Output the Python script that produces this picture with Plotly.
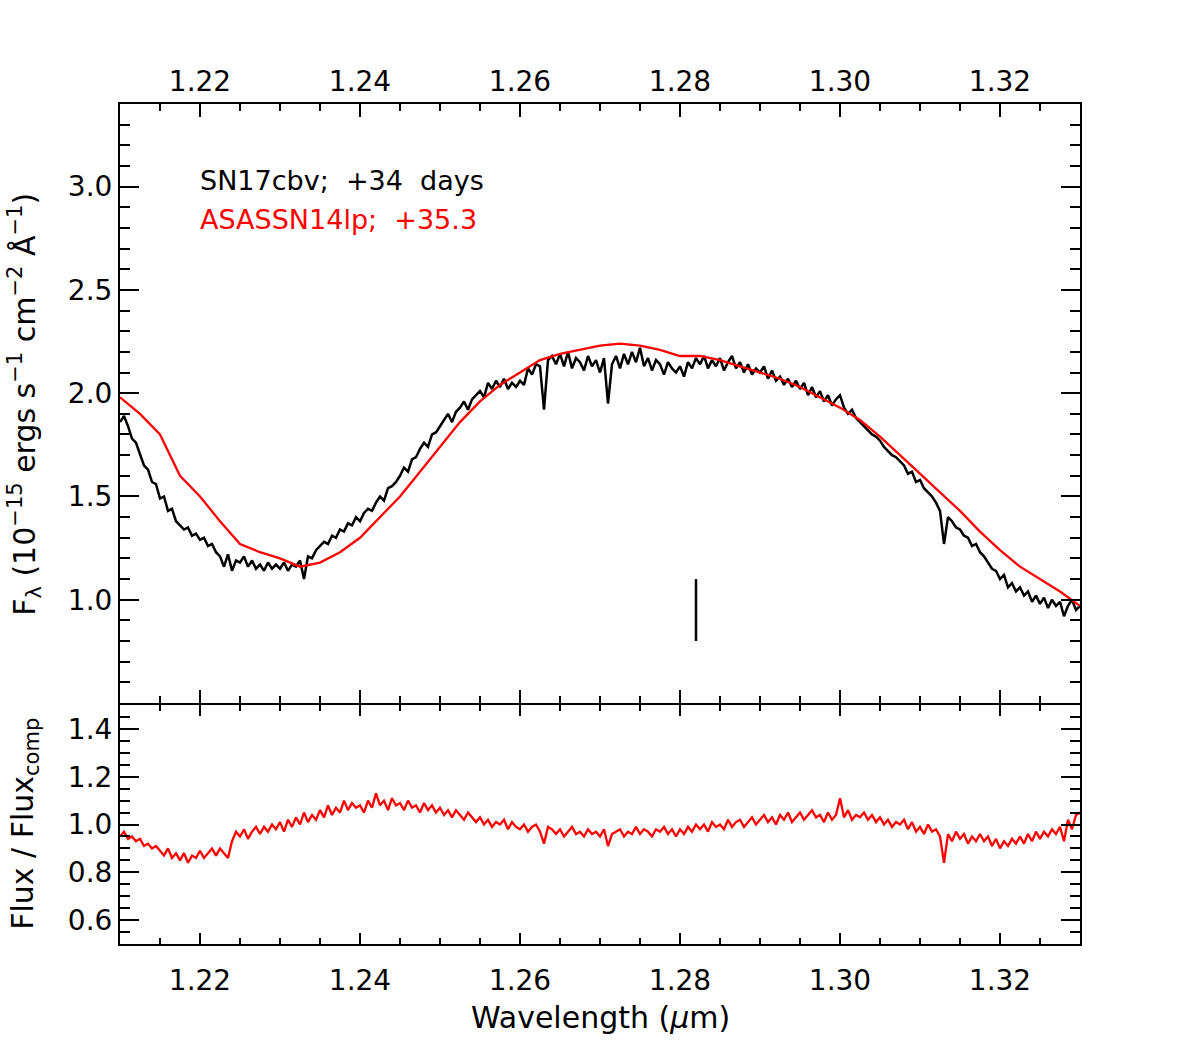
import numpy as np
import plotly.graph_objects as go

# ---------------- data ----------------
# SN17cbv spectrum, sampled every 0.0005 micron from 1.21 to 1.33
wave_start = 1.21
wave_step_obs = 0.0005
flux_obs = [
    1.86, 1.89, 1.84, 1.78, 1.76,
    1.71, 1.65, 1.63, 1.57, 1.56,
    1.49, 1.50, 1.43, 1.44, 1.38,
    1.36, 1.34, 1.35, 1.31, 1.32,
    1.29, 1.30, 1.26, 1.27, 1.23,
    1.21, 1.16, 1.22, 1.14, 1.19,
    1.18, 1.21, 1.16, 1.19, 1.15,
    1.17, 1.14, 1.18, 1.15, 1.17,
    1.15, 1.18, 1.14, 1.17, 1.16,
    1.19, 1.10, 1.21, 1.20, 1.24,
    1.26, 1.28, 1.27, 1.31, 1.30,
    1.34, 1.33, 1.37, 1.36, 1.40,
    1.38, 1.42, 1.44, 1.43, 1.47,
    1.50, 1.48, 1.54, 1.55, 1.57,
    1.60, 1.64, 1.62, 1.68, 1.69,
    1.73, 1.76, 1.74, 1.80, 1.81,
    1.84, 1.87, 1.90, 1.86, 1.91,
    1.93, 1.96, 1.92, 1.97, 1.99,
    2.01, 1.98, 2.05, 2.02, 2.06,
    2.03, 2.07, 2.02, 2.05, 2.03,
    2.06, 2.04, 2.12, 2.09, 2.14,
    2.13, 1.92, 2.16, 2.18, 2.14,
    2.19, 2.13, 2.20, 2.12, 2.17,
    2.15, 2.11, 2.18, 2.13, 2.16,
    2.10, 2.17, 1.95, 2.14, 2.18,
    2.12, 2.19, 2.14, 2.20, 2.15,
    2.22, 2.13, 2.17, 2.11, 2.16,
    2.14, 2.09, 2.15, 2.12, 2.10,
    2.13, 2.08, 2.15, 2.12, 2.17,
    2.14, 2.18, 2.12, 2.16, 2.13,
    2.17, 2.11, 2.15, 2.18, 2.12,
    2.15, 2.10, 2.14, 2.09, 2.12,
    2.10, 2.13, 2.07, 2.11, 2.06,
    2.08, 2.04, 2.07, 2.03, 2.06,
    2.02, 2.05, 1.99, 2.03, 1.98,
    2.01, 1.96, 1.99, 1.94, 1.97,
    1.99, 1.93, 1.90, 1.92, 1.88,
    1.86, 1.84, 1.82, 1.80, 1.79,
    1.77, 1.74, 1.72, 1.70, 1.69,
    1.67, 1.65, 1.61, 1.62, 1.57,
    1.58, 1.54, 1.52, 1.50, 1.47,
    1.43, 1.27, 1.40, 1.38, 1.35,
    1.34, 1.31, 1.30, 1.26, 1.27,
    1.23, 1.21, 1.18, 1.15, 1.14,
    1.10, 1.12, 1.06, 1.08, 1.04,
    1.06, 1.02, 1.04, 0.99, 1.02,
    0.98, 1.01, 0.96, 1.00, 0.97,
    0.99, 0.92, 0.97, 1.00, 0.95,
    0.97,
]

# ASASSN14lp comparison spectrum, sampled every 0.0025 micron
wave_step_comp = 0.0025
flux_comp = [
    1.98, 1.90, 1.80, 1.60, 1.50, 1.38, 1.27, 1.23, 1.20, 1.16,
    1.18, 1.23, 1.30, 1.40, 1.50, 1.62, 1.74, 1.86, 1.96, 2.04,
    2.10, 2.16, 2.19, 2.21, 2.23, 2.24, 2.23, 2.21, 2.18, 2.18,
    2.16, 2.13, 2.10, 2.07, 2.03, 1.98, 1.93, 1.87, 1.79, 1.70,
    1.61, 1.52, 1.43, 1.33, 1.24, 1.16, 1.10, 1.04, 0.97,
]

# Flux / Flux_comp ratio, sampled every 0.0005 micron
ratio = [
    0.95, 0.97, 0.94, 0.95, 0.93,
    0.94, 0.91, 0.92, 0.90, 0.91,
    0.89, 0.87, 0.90, 0.86, 0.88,
    0.85, 0.88, 0.84, 0.87, 0.86,
    0.89, 0.86, 0.88, 0.90, 0.87,
    0.90, 0.88, 0.86, 0.93, 0.97,
    0.95, 0.98, 0.94, 0.97, 0.99,
    0.96, 0.99, 0.97, 1.00, 0.98,
    1.01, 0.97, 1.02, 0.99, 1.03,
    1.00, 1.05, 1.01, 1.04, 1.02,
    1.06, 1.03, 1.08, 1.04, 1.07,
    1.05, 1.10, 1.06, 1.09, 1.07,
    1.08, 1.05, 1.10, 1.07, 1.13,
    1.08, 1.10, 1.06, 1.11, 1.08,
    1.09, 1.06, 1.10, 1.07, 1.08,
    1.05, 1.09, 1.06, 1.08, 1.05,
    1.07, 1.04, 1.06, 1.03, 1.06,
    1.04, 1.02, 1.05, 1.03, 1.01,
    1.03, 1.00, 1.02, 0.99, 1.01,
    1.00, 1.02, 0.98, 1.01, 0.99,
    0.98, 1.00, 0.97, 0.99, 1.00,
    0.97, 0.92, 0.99, 0.98, 0.96,
    0.98, 0.95, 0.97, 0.99, 0.96,
    0.97, 0.95, 0.98, 0.96, 0.97,
    0.95, 0.98, 0.91, 0.96, 0.97,
    0.98, 0.95, 0.97, 0.96, 0.99,
    0.96, 0.98, 0.97, 0.95, 0.98,
    0.97, 0.99, 0.96, 0.98, 0.95,
    0.98, 0.96, 0.99, 0.97, 1.00,
    0.98, 1.00, 0.97, 1.01, 0.99,
    1.00, 0.98, 1.02, 0.99, 1.01,
    1.02, 0.99, 1.01, 1.03, 1.00,
    1.02, 1.04, 1.01, 1.03, 1.00,
    1.04, 1.02, 1.05, 1.01, 1.03,
    1.05, 1.02, 1.04, 1.06, 1.03,
    1.04, 1.01, 1.05, 1.02, 1.04,
    1.11, 1.03, 1.06, 1.02, 1.04,
    1.03, 1.05, 1.02, 1.04, 1.01,
    1.03, 1.00, 1.02, 0.99, 1.01,
    1.00, 1.02, 0.98, 1.01, 0.97,
    0.99, 0.96, 1.00, 0.97, 0.98,
    0.95, 0.84, 0.96, 0.93, 0.97,
    0.94, 0.96, 0.92, 0.95, 0.93,
    0.96, 0.93, 0.95, 0.91, 0.94,
    0.90, 0.93, 0.91, 0.94, 0.92,
    0.95, 0.92, 0.96, 0.93, 0.97,
    0.94, 0.97, 0.95, 0.98, 0.96,
    0.99, 0.93, 1.02, 0.98, 1.04,
    1.05,
]

# feature marker
marker_x = [1.282, 1.282]
marker_y = [0.80, 1.10]

# axes
x_range = [1.21, 1.33]
y_top_range = [0.5, 3.4]
y_bot_range = [0.5, 1.5]
y_top_ticks = [1.0, 1.5, 2.0, 2.5, 3.0]
y_bot_ticks = [0.6, 0.8, 1.0, 1.2, 1.4]

label_obs = "SN17cbv;\u00a0\u00a0+34\u00a0\u00a0days"
label_comp = "ASASSN14lp;\u00a0\u00a0+35.3"

wave_obs = wave_start + wave_step_obs * np.arange(len(flux_obs))
wave_comp = wave_start + wave_step_comp * np.arange(len(flux_comp))
wave_ratio = wave_start + wave_step_obs * np.arange(len(ratio))

# ---------------- figure ----------------
FONT = "DejaVu Sans"
fig = go.Figure()

fig.add_trace(go.Scatter(x=wave_obs, y=flux_obs, mode="lines",
                         line=dict(color="black", width=2.5),
                         xaxis="x", yaxis="y", showlegend=False))
fig.add_trace(go.Scatter(x=wave_comp, y=flux_comp, mode="lines",
                         line=dict(color="red", width=2.3),
                         xaxis="x", yaxis="y", showlegend=False))
fig.add_trace(go.Scatter(x=marker_x, y=marker_y, mode="lines",
                         line=dict(color="black", width=2.5),
                         xaxis="x", yaxis="y", showlegend=False))
fig.add_trace(go.Scatter(x=wave_ratio, y=ratio, mode="lines",
                         line=dict(color="red", width=2.3),
                         xaxis="x2", yaxis="y2", showlegend=False))

split = 240 / 840
gap = 1 / 840

common = dict(showline=True, linecolor="black", linewidth=2, mirror="ticks",
              ticks="inside", tickcolor="black", tickwidth=2,
              showgrid=False, zeroline=False,
              tickfont=dict(family=FONT, size=28, color="black"))

fig.update_layout(
    width=1200, height=1050,
    margin=dict(l=120, r=120, t=104, b=106),
    paper_bgcolor="white", plot_bgcolor="white",
    font=dict(family=FONT, color="black"),
    xaxis=dict(domain=[0, 1], anchor="y", side="top", range=x_range,
               tick0=1.22, dtick=0.02, tickformat=".2f", ticklen=13,
               minor=dict(dtick=0.005, tick0=1.21, ticklen=7, ticks="inside",
                          tickcolor="black", tickwidth=2, showgrid=False),
               **common),
    yaxis=dict(domain=[split + gap, 1], anchor="x", range=y_top_range,
               tickmode="array", tickvals=y_top_ticks, tickformat=".1f",
               ticklen=19,
               minor=dict(dtick=0.1, tick0=0.5, ticklen=10, ticks="inside",
                          tickcolor="black", tickwidth=2, showgrid=False),
               **common),
    xaxis2=dict(domain=[0, 1], anchor="y2", side="bottom", range=x_range,
                tick0=1.22, dtick=0.02, tickformat=".2f", ticklen=11,
                ticklabelstandoff=10,
                minor=dict(dtick=0.005, tick0=1.21, ticklen=6, ticks="inside",
                           tickcolor="black", tickwidth=2, showgrid=False),
                **common),
    yaxis2=dict(domain=[0, split - gap], anchor="x2", range=y_bot_range,
                tickmode="array", tickvals=y_bot_ticks, tickformat=".1f",
                ticklen=19,
                minor=dict(dtick=0.05, tick0=0.5, ticklen=10, ticks="inside",
                           tickcolor="black", tickwidth=2, showgrid=False),
                **common),
)

annotations = [
    dict(text=label_obs, x=0.081, y=0.9095, xref="paper", yref="paper",
         xanchor="left", yanchor="middle", showarrow=False,
         font=dict(family=FONT, size=27, color="black")),
    dict(text=label_comp, x=0.081, y=0.862, xref="paper", yref="paper",
         xanchor="left", yanchor="middle", showarrow=False,
         font=dict(family=FONT, size=27, color="red")),
    dict(text="F<sub>λ</sub> (10<sup>−15</sup> ergs s<sup>−1</sup> cm<sup>−2</sup> Å<sup>−1</sup>)",
         x=-0.099, y=0.643, xref="paper", yref="paper", textangle=-90,
         xanchor="center", yanchor="middle", showarrow=False,
         font=dict(family=FONT, size=30, color="black")),
    dict(text="Flux / Flux<sub>comp</sub>",
         x=-0.099, y=0.143, xref="paper", yref="paper", textangle=-90,
         xanchor="center", yanchor="middle", showarrow=False,
         font=dict(family=FONT, size=30, color="black")),
    dict(text="Wavelength (<i>μ</i>m)",
         x=0.5, y=-0.088, xref="paper", yref="paper",
         xanchor="center", yanchor="middle", showarrow=False,
         font=dict(family=FONT, size=30, color="black")),
]
fig.update_layout(annotations=annotations)

fig.write_html("out.html")
